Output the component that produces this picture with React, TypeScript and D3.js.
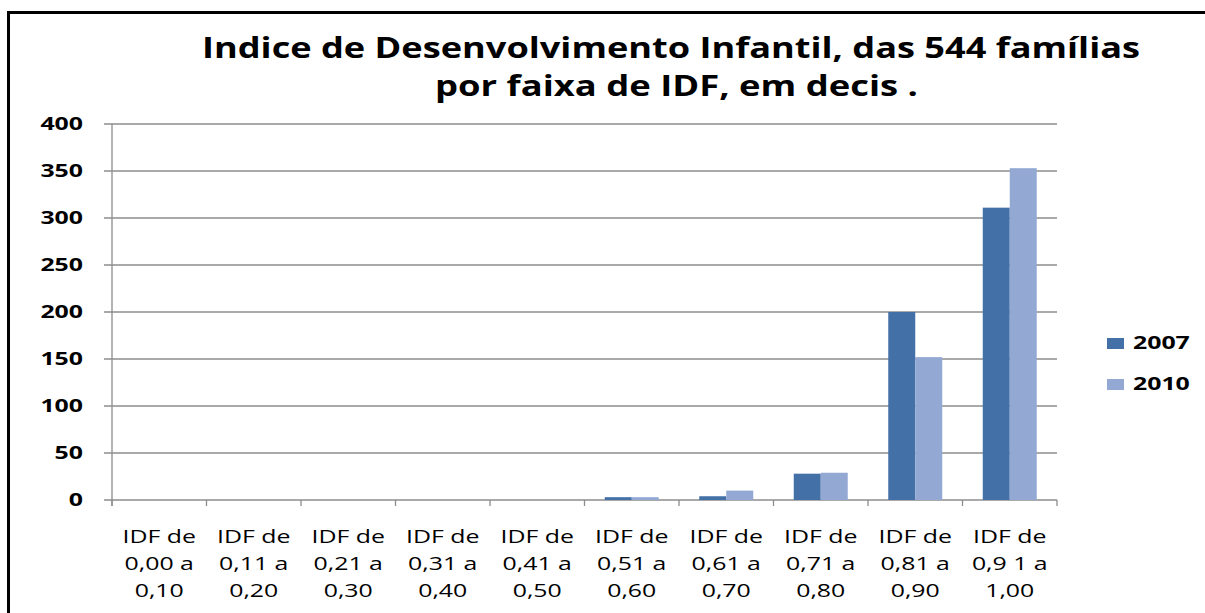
import React from "react";
import * as d3 from "d3";

const categories = [
  ["IDF de", "0,00 a", "0,10"],
  ["IDF de", "0,11 a", "0,20"],
  ["IDF de", "0,21 a", "0,30"],
  ["IDF de", "0,31 a", "0,40"],
  ["IDF de", "0,41 a", "0,50"],
  ["IDF de", "0,51 a", "0,60"],
  ["IDF de", "0,61 a", "0,70"],
  ["IDF de", "0,71 a", "0,80"],
  ["IDF de", "0,81 a", "0,90"],
  ["IDF de", "0,9 1 a", "1,00"],
];
const seriesNames = ["2007", "2010"];
const values2007 = [0, 0, 0, 0, 0, 3, 4, 28, 200, 311];
const values2010 = [0, 0, 0, 0, 0, 3, 10, 29, 152, 353];
const yTicks = [0, 50, 100, 150, 200, 250, 300, 350, 400];
const titleLines = [
  "Indice de Desenvolvimento Infantil, das 544 famílias",
  "por faixa de IDF, em decis .",
];

const colors = ["#4470A8", "#93A9D4"];
const FONT = "'Open Sans', 'DejaVu Sans', sans-serif";
const SX = 1.38;

export default function App() {
  const W = 1205;
  const H = 613;
  const left = 112;
  const right = 1057;
  const top = 124;
  const bottom = 500;

  const idx = categories.map((_, i) => String(i));
  const x0 = d3.scaleBand().domain(idx).range([left, right]).paddingInner(0).paddingOuter(0);
  const bw = x0.bandwidth();
  const gapRatio = 1.5;
  const barW = bw / (2 + gapRatio);
  const y = d3.scaleLinear().domain([0, 400]).range([bottom, top]);

  const series = [values2007, values2010];

  return (
    <svg width={W} height={H} style={{ position: "absolute", left: 0, top: 0, background: "#fff" }}>
      <rect x={0} y={0} width={W} height={H} fill="#fff" />
      {/* frame */}
      <rect x={8.5} y={12.5} width={W + 20} height={H + 20} fill="none" stroke="#000" strokeWidth={3} />

      {/* title */}
      <text x={202} y={58} textLength={938} lengthAdjust="spacingAndGlyphs" fontFamily={FONT} fontWeight="bold" fontSize={29} fill="#000">
        {titleLines[0]}
      </text>
      <text x={435} y={96} textLength={483} lengthAdjust="spacingAndGlyphs" fontFamily={FONT} fontWeight="bold" fontSize={29} fill="#000">
        {titleLines[1]}
      </text>

      {/* gridlines and y ticks */}
      {yTicks.map((t) => (
        <g key={t}>
          <line x1={104} x2={t === 0 ? right : right} y1={y(t)} y2={y(t)} stroke="#8c8c8c" strokeWidth={1.3} />
          <text
            transform={`translate(83,${y(t) + 6}) scale(${SX},1)`}
            textAnchor="end"
            fontFamily={FONT}
            fontWeight="bold"
            fontSize={18}
            fill="#000"
          >
            {t}
          </text>
        </g>
      ))}
      {/* y axis line */}
      <line x1={left} x2={left} y1={top} y2={bottom + 6} stroke="#8c8c8c" strokeWidth={1.3} />

      {/* category ticks */}
      {idx.map((k, i) => (
        <line key={k} x1={(x0(k) as number) + (i === 0 ? 0 : 0)} x2={x0(k) as number} y1={bottom} y2={bottom + 6} stroke="#8c8c8c" strokeWidth={1.3} />
      ))}
      <line x1={right} x2={right} y1={bottom} y2={bottom + 6} stroke="#8c8c8c" strokeWidth={1.3} />

      {/* bars */}
      {series.map((vals, s) =>
        vals.map((v, i) => {
          const bx = (x0(String(i)) as number) + bw / 2 - barW + s * barW;
          return v > 0 ? (
            <rect key={`${s}-${i}`} x={bx} y={y(v)} width={barW} height={bottom - y(v)} fill={colors[s]} />
          ) : null;
        })
      )}

      {/* x labels */}
      {categories.map((lines, i) => {
        const cx = (x0(String(i)) as number) + bw / 2;
        return lines.map((ln, j) => (
          <text
            key={`${i}-${j}`}
            transform={`translate(${cx},${543 + j * 27}) scale(${SX},1)`}
            textAnchor="middle"
            fontFamily={FONT}
            fontSize={18}
            fill="#000"
          >
            {ln}
          </text>
        ));
      })}

      {/* legend */}
      {seriesNames.map((n, s) => (
        <g key={n}>
          <rect x={1107} y={338 + s * 41} width={17} height={11} fill={colors[s]} />
          <text transform={`translate(1133,${349 + s * 41}) scale(${SX},1)`} fontFamily={FONT} fontWeight="bold" fontSize={18} fill="#000">
            {n}
          </text>
        </g>
      ))}
    </svg>
  );
}
